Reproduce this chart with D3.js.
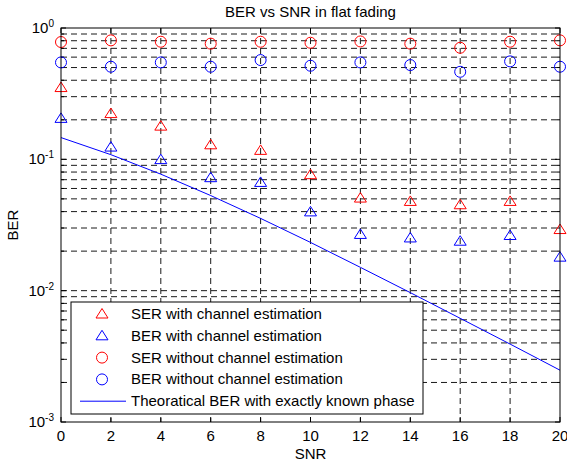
<!DOCTYPE html>
<html>
<head>
<meta charset="utf-8">
<script src="https://cdn.jsdelivr.net/npm/d3@7"></script>
<style>
  body { margin: 0; background: #fff; }
  text { font-family: "Liberation Sans", Arial, sans-serif; }
</style>
</head>
<body>
<svg id="chart"></svg>
<script>
// values
const snr = [0, 2, 4, 6, 8, 10, 12, 14, 16, 18, 20];
const serEst   = [0.352, 0.223, 0.179, 0.129, 0.117, 0.0764, 0.0507, 0.0478, 0.0451, 0.0478, 0.0292];
const berEst   = [0.205, 0.124, 0.0995, 0.0725, 0.0667, 0.0398, 0.0268, 0.0252, 0.0238, 0.0263, 0.018];
const serNoEst = [0.782, 0.805, 0.786, 0.76, 0.786, 0.772, 0.79, 0.76, 0.707, 0.786, 0.805];
const berNoEst = [0.547, 0.507, 0.547, 0.507, 0.57, 0.516, 0.547, 0.522, 0.464, 0.557, 0.507];
const berTheory = [0.1464, 0.1085, 0.0771, 0.0530, 0.0355, 0.0233, 0.01505, 0.00966, 0.00616, 0.00392, 0.00248];
const decades = [1, 0.1, 0.01, 0.001];
const decadeExp = ["0", "-1", "-2", "-3"];
const legendNames = [
  "SER with channel estimation",
  "BER with channel estimation",
  "SER without channel estimation",
  "BER without channel estimation",
  "Theoratical BER with exactly known phase"
];

const W = 567, H = 468;
const margin = { top: 28, right: 7, bottom: 46, left: 61 };
const width = W - margin.left - margin.right,
      height = H - margin.top - margin.bottom;

const svg = d3.select("#chart").attr("width", W).attr("height", H);
const g = svg.append("g").attr("transform", "translate(" + margin.left + "," + margin.top + ")");

const x = d3.scaleLinear().domain([0, 20]).range([0, width]);
const y = d3.scaleLog().domain([0.001, 1]).range([height, 0]);

// all log grid values (1..9 per decade)
const minor = [];
for (let e = -3; e < 0; e++) {
  for (let m = 1; m < 10; m++) minor.push(m * Math.pow(10, e));
}
minor.push(1);

// grid lines
g.selectAll(".hgrid")
  .data(minor.filter(v => v > 0.001 && v < 1))
  .enter().append("line")
  .attr("x1", 0).attr("x2", width)
  .attr("y1", d => y(d)).attr("y2", d => y(d))
  .attr("stroke", "#1a1a1a").attr("stroke-width", 1)
  .attr("stroke-dasharray", "6,4");

g.selectAll(".vgrid")
  .data(snr.slice(1, -1))
  .enter().append("line")
  .attr("x1", d => x(d)).attr("x2", d => x(d))
  .attr("y1", 0).attr("y2", height)
  .attr("stroke", "#1a1a1a").attr("stroke-width", 1)
  .attr("stroke-dasharray", "6,4");

// ticks, inward on all four sides
const tickG = g.append("g").attr("stroke", "#000").attr("stroke-width", 1);
snr.forEach(d => {
  tickG.append("line").attr("x1", x(d)).attr("x2", x(d)).attr("y1", height).attr("y2", height - 5);
  tickG.append("line").attr("x1", x(d)).attr("x2", x(d)).attr("y1", 0).attr("y2", 5);
});
minor.forEach(d => {
  const len = decades.includes(d) ? 5 : 3;
  tickG.append("line").attr("x1", 0).attr("x2", len).attr("y1", y(d)).attr("y2", y(d));
  tickG.append("line").attr("x1", width).attr("x2", width - len).attr("y1", y(d)).attr("y2", y(d));
});

// theory line
const line = d3.line().x((d, i) => x(snr[i])).y(d => y(d));
g.append("path")
  .datum(berTheory)
  .attr("d", line)
  .attr("fill", "none")
  .attr("stroke", "#0000ff")
  .attr("stroke-width", 1);

// markers
const triPath = "M0,-5.5L6,4L-6,4Z";
function triangles(vals, color) {
  g.selectAll(null).data(vals).enter().append("path")
    .attr("d", triPath)
    .attr("transform", (d, i) => "translate(" + x(snr[i]) + "," + y(d) + ")")
    .attr("fill", "none").attr("stroke", color).attr("stroke-width", 1);
}
function circles(vals, color) {
  g.selectAll(null).data(vals).enter().append("circle")
    .attr("cx", (d, i) => x(snr[i])).attr("cy", d => y(d)).attr("r", 5.5)
    .attr("fill", "none").attr("stroke", color).attr("stroke-width", 1);
}
triangles(serEst, "#ff0000");
triangles(berEst, "#0000ff");
circles(serNoEst, "#ff0000");
circles(berNoEst, "#0000ff");

// axes box
g.append("rect").attr("width", width).attr("height", height)
  .attr("fill", "none").attr("stroke", "#000").attr("stroke-width", 1);

// tick labels
g.selectAll(".xlab").data(snr).enter().append("text")
  .attr("x", d => x(d)).attr("y", height + 19)
  .attr("text-anchor", "middle").attr("font-size", 15)
  .text(d => d);

decades.forEach((d, i) => {
  const t = g.append("text")
    .attr("x", -7).attr("y", y(d) + 5)
    .attr("text-anchor", "end").attr("font-size", 15);
  t.append("tspan").text("10");
  t.append("tspan").attr("font-size", 10).attr("dy", -6).text(decadeExp[i]);
});

// titles
svg.append("text").attr("x", margin.left + width / 2).attr("y", 17)
  .attr("text-anchor", "middle").attr("font-size", 15)
  .text("BER vs SNR in flat fading");
svg.append("text").attr("x", margin.left + width / 2).attr("y", 459)
  .attr("text-anchor", "middle").attr("font-size", 15)
  .text("SNR");
svg.append("text")
  .attr("transform", "translate(18," + (margin.top + height / 2) + ") rotate(-90)")
  .attr("text-anchor", "middle").attr("font-size", 15)
  .text("BER");

// legend
const lg = svg.append("g").attr("transform", "translate(71,302)");
lg.append("rect").attr("width", 352).attr("height", 112)
  .attr("fill", "#fff").attr("stroke", "#000").attr("stroke-width", 1);
const rows = [
  { kind: "tri", color: "#ff0000" },
  { kind: "tri", color: "#0000ff" },
  { kind: "circ", color: "#ff0000" },
  { kind: "circ", color: "#0000ff" },
  { kind: "line", color: "#0000ff" }
];
rows.forEach((r, i) => {
  const cy = 12 + i * 21.8;
  if (r.kind === "tri") {
    lg.append("path").attr("d", triPath)
      .attr("transform", "translate(31," + cy + ")")
      .attr("fill", "none").attr("stroke", r.color);
  } else if (r.kind === "circ") {
    lg.append("circle").attr("cx", 31).attr("cy", cy).attr("r", 5.5)
      .attr("fill", "none").attr("stroke", r.color);
  } else {
    lg.append("line").attr("x1", 9).attr("x2", 55).attr("y1", cy).attr("y2", cy)
      .attr("stroke", r.color);
  }
  lg.append("text").attr("x", 60).attr("y", cy + 5)
    .attr("font-size", 15).text(legendNames[i]);
});
</script>
</body>
</html>
